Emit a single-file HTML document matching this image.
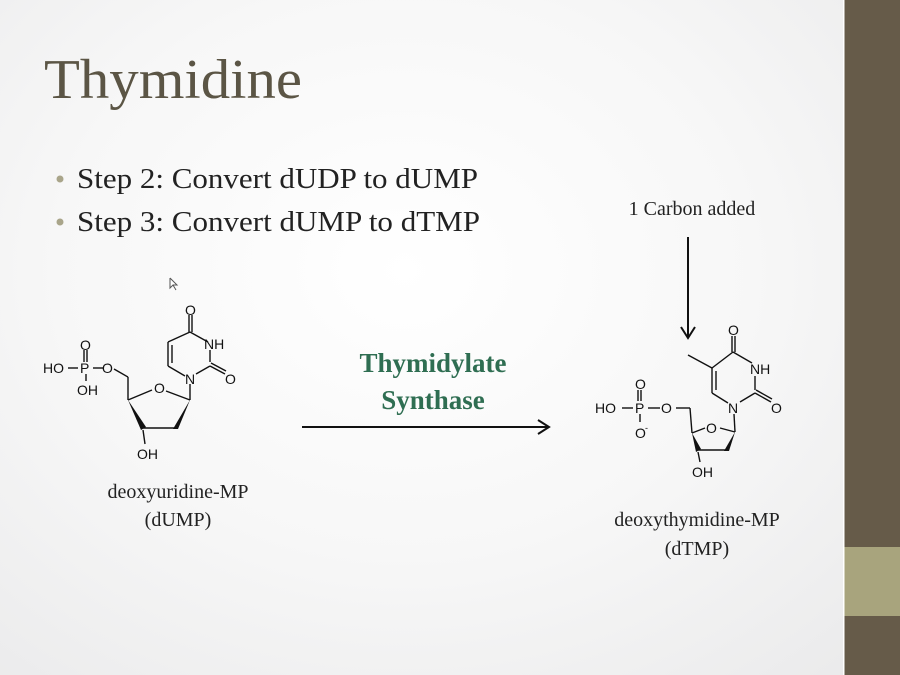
<!DOCTYPE html>
<html><head><meta charset="utf-8"><style>
html,body{margin:0;padding:0;}
body{width:900px;height:675px;overflow:hidden;background:radial-gradient(ellipse at 45% 40%,#ffffff 0%,#f7f7f7 50%,#e9e9ea 100%);}
svg{position:absolute;left:0;top:0;}
</style></head><body>
<svg width="900" height="675" viewBox="0 0 900 675" xmlns="http://www.w3.org/2000/svg">
<rect x="844" y="0" width="56" height="675" fill="#665b49"/>
<rect x="844" y="547" width="56" height="69" fill="#a8a47d"/>
<rect x="843" y="0" width="1.5" height="675" fill="#ffffff"/>
<text x="44" y="98" font-family="Liberation Serif, serif" font-size="56" fill="#5b5545" textLength="258" lengthAdjust="spacingAndGlyphs">Thymidine</text>
<circle cx="60" cy="179" r="3.5" fill="#a9a58a"/>
<circle cx="60" cy="222" r="3.5" fill="#a9a58a"/>
<g font-family="Liberation Serif, serif" font-size="28" fill="#222">
<text x="77" y="188" textLength="401" lengthAdjust="spacingAndGlyphs">Step 2: Convert dUDP to dUMP</text>
<text x="77" y="231" textLength="403" lengthAdjust="spacingAndGlyphs">Step 3: Convert dUMP to dTMP</text>
</g>
<g font-family="Liberation Serif, serif" font-size="20" fill="#222" text-anchor="middle">
<text x="692" y="215">1 Carbon added</text>
<text x="178" y="498">deoxyuridine-MP</text>
<text x="178" y="526">(dUMP)</text>
<text x="697" y="526">deoxythymidine-MP</text>
<text x="697" y="555">(dTMP)</text>
</g>
<g font-family="Liberation Serif, serif" font-size="27" font-weight="bold" fill="#2f6e52" text-anchor="middle">
<text x="433" y="372">Thymidylate</text>
<text x="433" y="409">Synthase</text>
</g>
<g stroke="#111" stroke-width="2" fill="none">
<line x1="302" y1="427" x2="547" y2="427"/>
<polyline points="538,420 549,427 538,434"/>
<line x1="688" y1="237" x2="688" y2="337"/>
<polyline points="681,327 688,338 695,327"/>
</g>
<!-- left molecule -->
<g stroke="#111" stroke-width="1.4" fill="none">
<line x1="189" y1="315" x2="189" y2="332"/><line x1="192" y1="315" x2="192" y2="332"/>
<line x1="190" y1="332" x2="208" y2="342"/>
<line x1="210" y1="350" x2="210" y2="362"/>
<line x1="210" y1="366" x2="225" y2="374"/><line x1="211" y1="363" x2="226" y2="371"/>
<line x1="210" y1="366" x2="196" y2="374"/>
<line x1="185" y1="376" x2="168" y2="366"/>
<line x1="168" y1="366" x2="168" y2="342"/><line x1="172" y1="363" x2="172" y2="345"/>
<line x1="168" y1="342" x2="190" y2="332"/>
<line x1="190" y1="384" x2="190" y2="400"/>
<line x1="190" y1="400" x2="166" y2="391"/>
<line x1="152" y1="390" x2="128" y2="400"/>
<line x1="143" y1="428" x2="175" y2="428"/>
<line x1="128" y1="400" x2="128" y2="377"/>
<line x1="128" y1="377" x2="114" y2="369"/>
<line x1="103" y1="368" x2="93" y2="368"/>
<line x1="78" y1="368" x2="68" y2="368"/>
<line x1="84" y1="350" x2="84" y2="362"/><line x1="87" y1="350" x2="87" y2="362"/>
<line x1="86" y1="374" x2="86" y2="381"/>
<line x1="143" y1="430" x2="145" y2="444"/>
</g>
<polygon points="128,400 141,430 146,427" fill="#111"/>
<polygon points="190,400 173,429 178,429" fill="#111"/>
<g font-family="Liberation Sans, sans-serif" font-size="14" fill="#111">
<text x="185" y="315">O</text>
<text x="204" y="349">NH</text>
<text x="225" y="384">O</text>
<text x="185" y="384">N</text>
<text x="154" y="393">O</text>
<text x="102" y="373">O</text>
<text x="80" y="373">P</text>
<text x="80" y="350">O</text>
<text x="43" y="373">HO</text>
<text x="77" y="395">OH</text>
<text x="137" y="459">OH</text>
</g>
<!-- right molecule -->
<g stroke="#111" stroke-width="1.4" fill="none">
<line x1="732" y1="336" x2="732" y2="352"/><line x1="735" y1="336" x2="735" y2="352"/>
<line x1="733" y1="352" x2="752" y2="363"/>
<line x1="755" y1="376" x2="755" y2="390"/>
<line x1="755" y1="393" x2="771" y2="402"/><line x1="756" y1="390" x2="772" y2="399"/>
<line x1="755" y1="393" x2="740" y2="402"/>
<line x1="728" y1="403" x2="712" y2="393"/>
<line x1="712" y1="393" x2="712" y2="368"/><line x1="716" y1="390" x2="716" y2="371"/>
<line x1="712" y1="368" x2="733" y2="352"/>
<line x1="712" y1="368" x2="688" y2="355"/>
<line x1="734" y1="414" x2="735" y2="432"/>
<line x1="735" y1="432" x2="720" y2="428"/>
<line x1="705" y1="428" x2="692" y2="433"/>
<line x1="698" y1="450" x2="727" y2="450"/>
<line x1="692" y1="433" x2="690" y2="408"/>
<line x1="690" y1="408" x2="676" y2="408"/>
<line x1="660" y1="408" x2="648" y2="408"/>
<line x1="633" y1="408" x2="622" y2="408"/>
<line x1="638" y1="390" x2="638" y2="401"/><line x1="641" y1="390" x2="641" y2="401"/>
<line x1="640" y1="414" x2="640" y2="422"/>
<line x1="698" y1="452" x2="700" y2="462"/>
</g>
<polygon points="692,433 696,452 701,449" fill="#111"/>
<polygon points="735,432 724,451 729,451" fill="#111"/>
<g font-family="Liberation Sans, sans-serif" font-size="14" fill="#111">
<text x="728" y="335">O</text>
<text x="750" y="374">NH</text>
<text x="771" y="413">O</text>
<text x="728" y="413">N</text>
<text x="706" y="433">O</text>
<text x="661" y="413">O</text>
<text x="635" y="413">P</text>
<text x="635" y="389">O</text>
<text x="595" y="413">HO</text>
<text x="635" y="438">O</text><text x="645" y="431" font-size="9">-</text>
<text x="692" y="477">OH</text>
</g>
<path d="M170,278 l0,10 l3,-3 l3,5 M170,278 l7,7 l-4,0" stroke="#555" stroke-width="1" fill="#fff"/>
</svg>
</body></html>
